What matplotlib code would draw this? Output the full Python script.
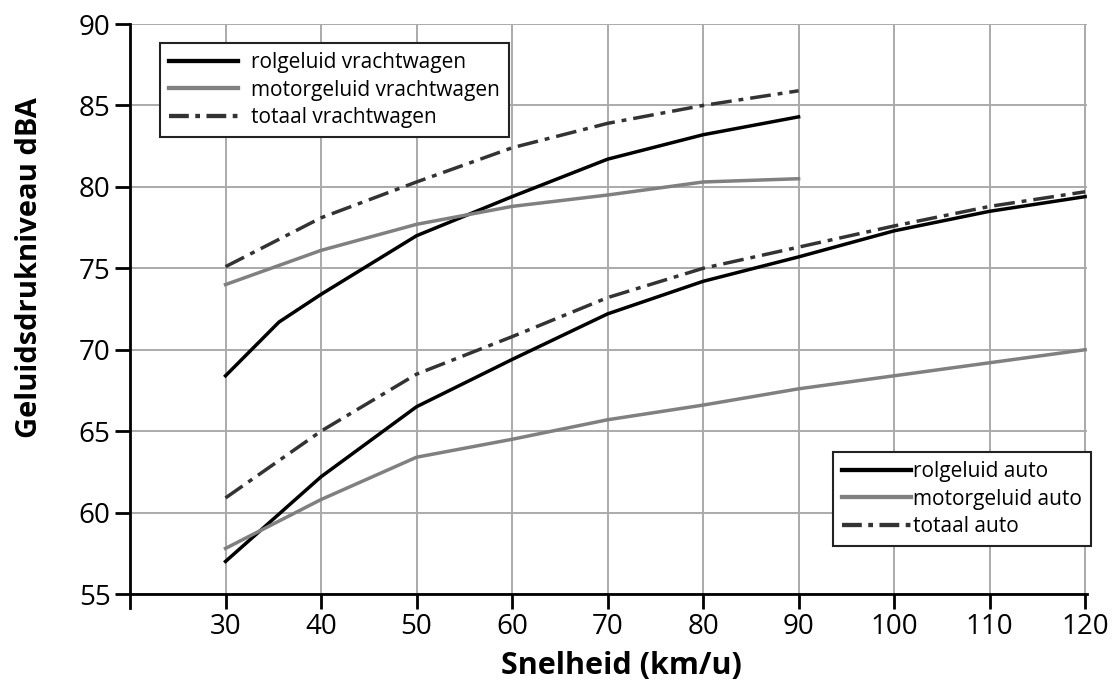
import matplotlib

matplotlib.use("Agg")
import matplotlib.pyplot as plt
from matplotlib.lines import Line2D

plt.rcParams["font.family"] = ["Open Sans", "DejaVu Sans"]

# snelheid (km/u)
speed_truck = [30, 35.6, 40, 50, 60, 70, 80, 90]
speed_truck_other = [30, 40, 50, 60, 70, 80, 90]
speed_car = [30, 40, 50, 60, 70, 80, 90, 100, 110, 120]

# geluidsdrukniveau (dBA)
rol_truck = [68.4, 71.7, 73.4, 77.0, 79.4, 81.7, 83.2, 84.3]
motor_truck = [74.0, 76.1, 77.7, 78.8, 79.5, 80.3, 80.5]
total_truck = [75.1, 78.1, 80.3, 82.4, 83.9, 85.0, 85.9]

rol_car = [57.0, 62.2, 66.5, 69.4, 72.2, 74.2, 75.7, 77.3, 78.5, 79.4]
motor_car = [57.8, 60.8, 63.4, 64.5, 65.7, 66.6, 67.6, 68.4, 69.2, 70.0]
total_car = [60.9, 65.0, 68.5, 70.8, 73.2, 75.0, 76.3, 77.6, 78.8, 79.7]

x_ticks = [30, 40, 50, 60, 70, 80, 90, 100, 110, 120]
y_ticks = [55, 60, 65, 70, 75, 80, 85, 90]

truck_labels = ["rolgeluid vrachtwagen", "motorgeluid vrachtwagen", "totaal vrachtwagen"]
car_labels = ["rolgeluid auto", "motorgeluid auto", "totaal auto"]

BLACK = "#000000"
GREY = "#808080"
DARK = "#333333"
DASHDOT = (0, (6.0, 2.0, 1.4, 2.0))
LEG_DASHDOT = (0, (4.6, 1.5, 1.1, 1.5))
LW = 2.5


def make_legend(fig, labels, anchor, textpad):
    handles = [
        Line2D([], [], color=BLACK, lw=LW + 0.6),
        Line2D([], [], color=GREY, lw=LW + 0.6),
        Line2D([], [], color=DARK, lw=LW + 0.6, linestyle=LEG_DASHDOT),
    ]
    leg = fig.legend(handles, labels, loc="upper left", bbox_to_anchor=anchor,
                     fontsize=15, frameon=True, fancybox=False, edgecolor="#222222",
                     framealpha=1, handlelength=3.3, handletextpad=textpad,
                     labelspacing=0.3, borderpad=0.45, borderaxespad=0)
    leg.get_frame().set_linewidth(1.5)
    return leg


def main():
    fig = plt.figure(figsize=(11.14, 6.88), dpi=100)
    ax = fig.add_axes([0.1167, 0.1366, 0.8591, 0.8285])

    ax.plot(speed_truck, rol_truck, color=BLACK, lw=LW)
    ax.plot(speed_truck_other, motor_truck, color=GREY, lw=LW)
    ax.plot(speed_truck_other, total_truck, color=DARK, lw=LW, linestyle=DASHDOT)
    ax.plot(speed_car, rol_car, color=BLACK, lw=LW)
    ax.plot(speed_car, motor_car, color=GREY, lw=LW)
    ax.plot(speed_car, total_car, color=DARK, lw=LW, linestyle=DASHDOT)

    ax.set_xlim(20, 120.2)
    ax.set_ylim(55, 90)
    ax.set_xticks(x_ticks)
    ax.set_yticks(y_ticks)
    ax.grid(color="#aaaaaa", linewidth=1.4)
    ax.set_axisbelow(True)

    for side in ["top", "right"]:
        ax.spines[side].set_visible(False)
    for side in ["left", "bottom"]:
        ax.spines[side].set_linewidth(2)
    ax.tick_params(direction="out", length=11, width=2, labelsize=20,
                   colors="black", pad=3)

    # left spine runs a little below the x-axis
    ax.add_line(Line2D([0, 0], [-0.025, 0], transform=ax.transAxes,
                       color="black", lw=2, clip_on=False))

    ax.set_xlabel("Snelheid (km/u)", fontsize=22, fontweight="bold", labelpad=7, x=0.514)
    ax.set_ylabel("Geluidsdrukniveau dBA", fontsize=21, fontweight="bold", labelpad=25, y=0.572)

    make_legend(fig, truck_labels, (160 / 1114, 1 - 43 / 688), 0.6)
    make_legend(fig, car_labels, (833 / 1114, 1 - 452 / 688), 0.1)

    fig.savefig("out.png", dpi=100, facecolor="white")
    plt.close(fig)


if __name__ == "__main__":
    main()
